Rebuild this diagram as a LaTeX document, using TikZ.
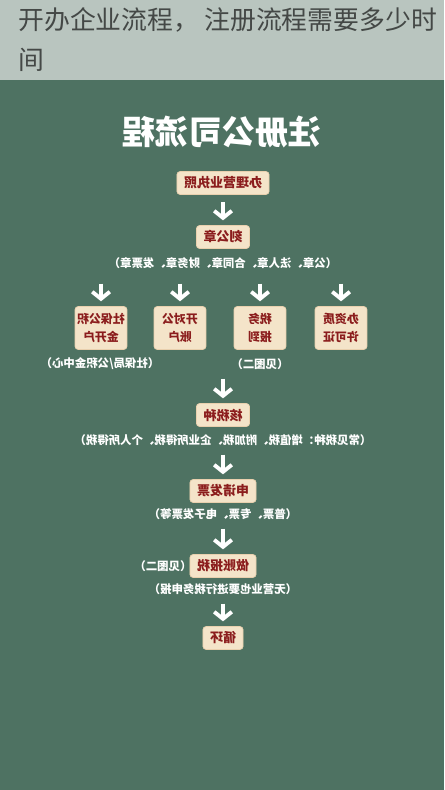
\documentclass[tikz,border=0pt]{standalone}
\usepackage{fontspec}
\newfontfamily\cjk{Noto Sans CJK SC}
\usetikzlibrary{arrows.meta,positioning}
\definecolor{panel}{HTML}{4E7262}
\definecolor{bar}{HTML}{B9C5BF}
\definecolor{cream}{HTML}{F4E4C9}
\definecolor{wine}{HTML}{8B1D1D}
\definecolor{ink}{HTML}{444846}

\begin{document}
\begin{tikzpicture}[x=0.02cm, y=-0.02cm,
    stepbox/.style={fill=cream, draw=cream!80!brown, rounded corners=1.7pt,
      inner xsep=4pt, inner ysep=0pt, minimum height=13pt, text=wine,
      font=\cjk\bfseries\fontsize{7.4}{9}\selectfont},
    twobox/.style={stepbox, inner xsep=0.5pt, minimum width=29.5pt, minimum height=24.4pt, align=center,
      font=\cjk\bfseries\fontsize{6.8}{10}\selectfont},
    note/.style={text=white, inner sep=1pt, font=\cjk\bfseries\fontsize{6.5}{7.5}\selectfont},
    arr/.style={draw=white, line width=2.2pt, -{Straight Barb[length=4pt,width=10pt]},
      shorten <=4pt, shorten >=2.8pt}]
    \useasboundingbox (0,0) rectangle (444,790);
    \fill[bar] (0,0) rectangle (444,80);
    \fill[panel] (0,80) rectangle (444,790);

    % page heading
    \node[anchor=base west, inner sep=0pt, text=ink, font=\cjk\fontsize{14.7}{16}\selectfont]
      (head1) at (18,30) {开办企业流程，\hspace{3pt}注册流程需要多少时};
    \node[anchor=base west, inner sep=0pt, text=ink, font=\cjk\fontsize{14.7}{16}\selectfont]
      (head2) at (18,70) {间};

    % the poster is printed mirrored
    \begin{scope}[shift={(444,0)}, xscale=-1, transform shape]
    \node[text=white, font=\cjk\bfseries\fontsize{18.9}{20}\selectfont] (title) at (222,132) {注册公司流程};

    \node[stepbox] (license) at (221,183) {办理营业执照};
    \node[stepbox] (seal) at (221,237) {刻公章};
    \node[note] (sealnote) at (221,263) {（公章、法人章、合同章、财务章、发票章）};

    \node[twobox] (social) at (343,328) {社保公积\\金开户};
    \node[twobox] (bank) at (264,328) {开对公\\账户};
    \node[twobox] (tax) at (184,328) {税务\\报到};
    \node[twobox] (permit) at (103,328) {办资质\\许可证};
    \node[note] (socialnote) at (344,364) {（社保局/公积金中心）};
    \node[note] (taxnote) at (184,364) {（见图二）};

    \node[stepbox] (taxtype) at (221,415) {核税种};
    \node[note] (typenote) at (221,440) {（常见税种：增值税、附加税、企业所得税、个人所得税）};
    \node[stepbox] (invoice) at (221,491) {申请发票};
    \node[note] (invnote) at (221,514) {（普票、专票、电子发票等）};
    \node[stepbox] (bookkeep) at (221,566) {做账报税};
    \node[note] (bookref) at (281,566) {（见图二）};
    \node[note] (booknote) at (221,589) {（无营业也要进行税务申报）};
    \node[stepbox] (cycle) at (221,638) {循环};

    \draw[arr] (license) -- (seal);
    \foreach \col in {social,bank,tax,permit}
      \draw[arr, shorten <=7.4pt] (sealnote.south -| \col) -- (\col);
    \draw[arr] (taxtype.north |- taxnote.south) -- (taxtype);
    \draw[arr] (typenote) -- (invoice);
    \draw[arr] (invnote) -- (bookkeep);
    \draw[arr] (booknote) -- (cycle);
    \end{scope}
\end{tikzpicture}
\end{document}
